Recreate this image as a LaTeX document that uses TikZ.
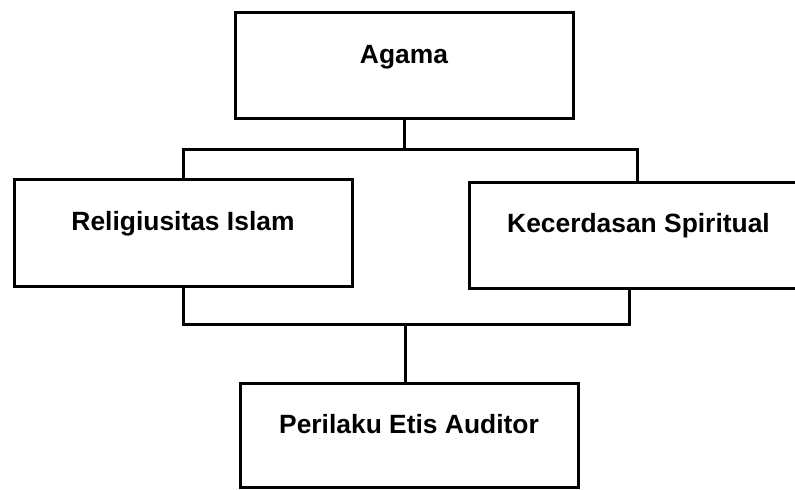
\documentclass[tikz,border=0pt]{standalone}
\usepackage{fontspec}
\setmainfont{Liberation Sans}
\begin{document}
\begin{tikzpicture}[x=0.75pt,y=-0.75pt,
  box/.style={draw=black, line width=2.25pt, rectangle, inner sep=0pt, outer sep=0pt,
    anchor=north west, align=center, font=\fontsize{19.8}{24}\selectfont\bfseries},
  link/.style={draw=black, line width=2.25pt}]
\useasboundingbox (0,0) rectangle (795,489);
\clip (0,0) rectangle (795,489);
\node[box, minimum width=253.5pt, text height=38.25pt, text depth=41.25pt] (agama) at (235,12) {Agama};
\node[box, minimum width=253.5pt, text height=38.25pt, text depth=42pt] (reli) at (14,179) {Religiusitas Islam};
\node[box, minimum width=254.25pt, text height=37.5pt, text depth=42pt] (kec) at (469,182) {Kecerdasan Spiritual};
\node[box, minimum width=253.5pt, text height=37.5pt, text depth=40.5pt] (peri) at (240,383) {Perilaku Etis Auditor};
\coordinate (jt) at (404,149);
\coordinate (jb) at (405,324);
\draw[link] (agama.south) -- (jt);
\draw[link] (reli.north) -- (reli.north |- jt) -- ([xshift=-1.1pt]kec.north |- jt) -- ([xshift=-1.1pt]kec.north);
\draw[link] (reli.south) -- (reli.south |- jb) -- ([xshift=-6.4pt]kec.south |- jb) -- ([xshift=-6.4pt]kec.south);
\draw[link] (jb) -- (jb |- peri.north);
\end{tikzpicture}
\end{document}
